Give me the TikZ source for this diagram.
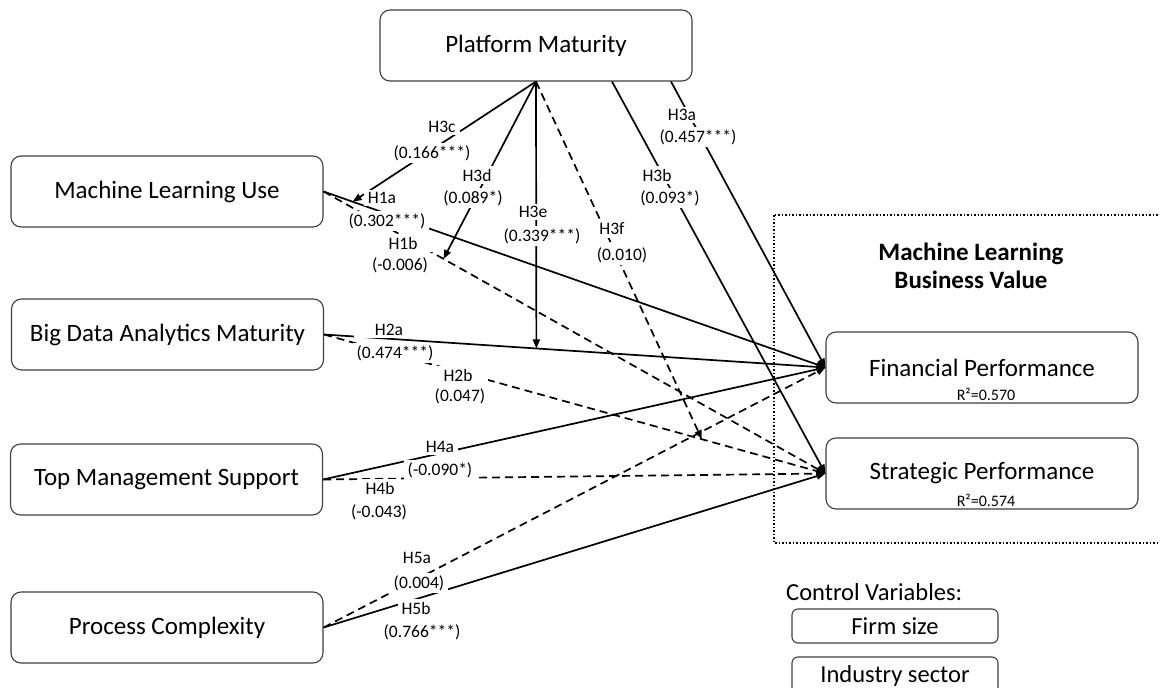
\documentclass[tikz,border=0pt]{standalone}
\usepackage{fontspec}
\setmainfont{Carlito}
\usetikzlibrary{arrows.meta,calc}
\begin{document}
\begin{tikzpicture}[x=1pt,y=-1pt,
  box/.style={draw=black!75, line width=1.1pt, rounded corners=10pt, minimum width=312pt, minimum height=71pt, inner sep=0pt, font=\fontsize{25}{30}\selectfont},
  smallbox/.style={draw=black!75, line width=1.1pt, rounded corners=6pt, minimum width=206pt, inner sep=0pt, font=\fontsize{24.5}{30}\selectfont},
  conn/.style={line width=1.7pt, -{Triangle[length=9pt,width=7pt]}},
  dconn/.style={conn, dash pattern=on 8pt off 5pt},
  lbl/.style={fill=white, inner xsep=4pt, inner ysep=2.5pt, font=\fontsize{17.5}{20}\selectfont},
  rsq/.style={inner sep=0pt, font=\fontsize{16}{18}\selectfont}
]
\fill[white] (0,0) rectangle (1160,688);
\clip (0,0) rectangle (1160,688);

% dotted group box
\draw[line width=1.5pt, dotted] (774,215) rectangle (1175,543);
\node[font=\bfseries\fontsize{25}{28}\selectfont, align=center] (mlbv) at (971,266) {Machine Learning\\Business Value};

% nodes
\node[box] (pm)  at (536,45.5)  {Platform Maturity};
\node[box] (mlu) at (167,191.5) {Machine Learning Use};
\node[box] (bda) at (167.5,334.5) {Big Data Analytics Maturity};
\node[box] (tms) at (166.5,479.5) {Top Management Support};
\node[box] (pc)  at (167,627.5) {Process Complexity};
\node[box] (fp)  at (982,367.5) {Financial Performance};
\node[box] (sp)  at (982,473.5) {Strategic Performance};
\node[rsq] (fpr) at (986,394) {R²=0.570};
\node[rsq] (spr) at (986,500) {R²=0.574};

\node[anchor=west, font=\fontsize{24.5}{30}\selectfont, inner sep=0pt] (cv) at (786,592) {Control Variables:};
\node[smallbox, minimum height=34pt] (fs) at (895,626) {Firm size};
\node[smallbox, minimum height=38pt] (is) at (895,676) {Industry sector};

% points on paths for moderation arrows
\coordinate (onH1a) at ($(mlu.east)!0.058!(fp.west)$);
\coordinate (onH1b) at ($(mlu.east)!0.239!(sp.west)$);
\coordinate (onH2a) at ($(bda.east)!0.4235!(fp.west)$);
\coordinate (onH2b) at ($(bda.east)!0.7535!(sp.west)$);

% main paths
\draw[conn]  (mlu.east) -- (fp.west);
\draw[dconn] (mlu.east) -- (sp.west);
\draw[conn]  (bda.east) -- (fp.west);
\draw[dconn] (bda.east) -- (sp.west);
\draw[conn]  (tms.east) -- (fp.west);
\draw[dconn] (tms.east) -- (sp.west);
\draw[dconn] (pc.east) -- (fp.west);
\draw[conn]  (pc.east) -- (sp.west);
\draw[conn]  ([xshift=135pt]pm.south) -- (fp.west);
\draw[conn]  ([xshift=76pt]pm.south) -- (sp.west);

% moderation arrows
\draw[conn]  (pm.south) -- (onH1a);
\draw[conn]  (pm.south) -- (onH1b);
\draw[conn]  (pm.south) -- (onH2a);
\draw[dconn] (pm.south) -- (onH2b);

% labels
\node[lbl] (l3c)  at (442,127) {H3c};
\node[lbl] (v3c)  at (432,153) {(0.166***)};
\node[lbl] (l3d)  at (477,175) {H3d};
\node[lbl] (v3d)  at (473,198) {(0.089*)};
\node[lbl] (l3e)  at (533,212) {H3e};
\node[lbl] (v3e)  at (542,236) {(0.339***)};
\node[lbl] (l3f)  at (612,229) {H3f};
\node[lbl] (v3f)  at (622,255) {(0.010)};
\node[lbl] (l3b)  at (657,175) {H3b};
\node[lbl] (v3b)  at (670,198) {(0.093*)};
\node[lbl] (l3a)  at (682,115) {H3a};
\node[lbl] (v3a)  at (698,137) {(0.457***)};
\node[lbl] (l1a)  at (382,198) {H1a};
\node[lbl] (v1a)  at (387,221) {(0.302***)};
\node[lbl, minimum width=66pt] (l1b)  at (403,243) {H1b};
\node[lbl, minimum width=66pt] (v1b)  at (400,265) {(-0.006)};
\node[lbl, minimum width=70pt] (l2a)  at (389,330) {H2a};
\node[lbl] (v2a)  at (395,353) {(0.474***)};
\node[lbl, minimum width=60pt] (l2b)  at (458,375) {H2b};
\node[lbl] (v2b)  at (460,396) {(0.047)};
\node[lbl] (l4a)  at (440,447) {H4a};
\node[lbl] (v4a)  at (440,470) {(-0.090*)};
\node[lbl] (l4b)  at (380,488) {H4b};
\node[lbl] (v4b)  at (379,512) {(-0.043)};
\node[lbl] (l5a)  at (417,558) {H5a};
\node[lbl] (v5a)  at (419,583) {(0.004)};
\node[lbl] (l5b)  at (416,608) {H5b};
\node[lbl] (v5b)  at (422,632) {(0.766***)};
\end{tikzpicture}
\end{document}
